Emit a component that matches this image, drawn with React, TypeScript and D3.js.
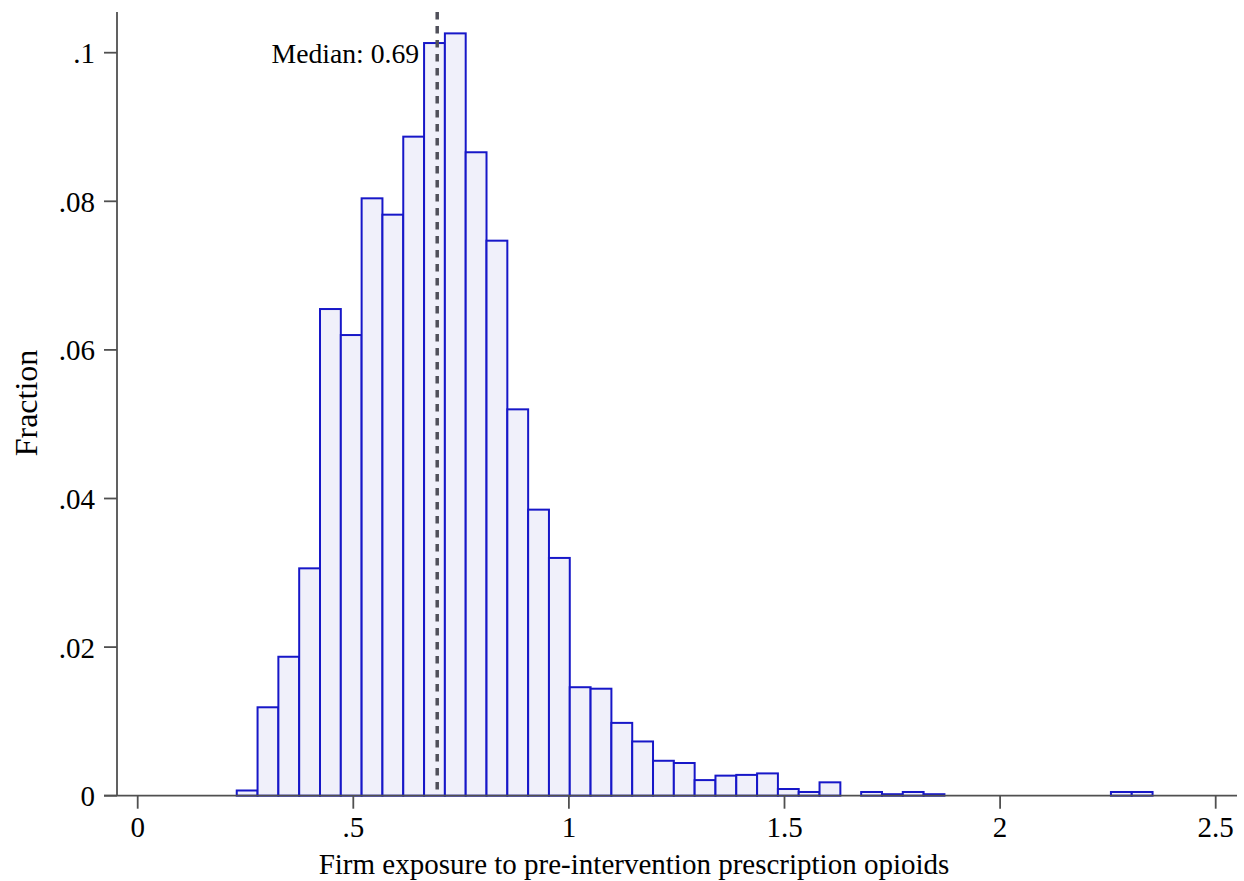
import React, {useRef, useEffect} from 'react';
import * as d3 from 'd3';

// histogram bins (Stata style: start at min, constant width)
const binStart = 0.2297;
const binWidth = 0.04827;
const fractions = [
    0.0007, 0.0119, 0.0187, 0.0306, 0.0655, 0.0620, 0.0804, 0.0782, 0.0887, 0.1013,
    0.1026, 0.0866, 0.0747, 0.0520, 0.0385, 0.0320, 0.0146, 0.0144, 0.0098, 0.0073,
    0.0047, 0.0044, 0.0021, 0.0027, 0.0028, 0.0030, 0.0009, 0.0005, 0.0018, 0,
    0.0005, 0.0002, 0.0005, 0.0002, 0, 0, 0, 0, 0, 0,
    0, 0, 0.0005, 0.0005
];

const xTicks = [0, 0.5, 1, 1.5, 2, 2.5];
const xTickLabels = ['0', '.5', '1', '1.5', '2', '2.5'];
const yTicks = [0, 0.02, 0.04, 0.06, 0.08, 0.1];
const yTickLabels = ['0', '.02', '.04', '.06', '.08', '.1'];

const medianValue = 0.6946;
const medianLabel = 'Median: 0.69';
const xTitle = 'Firm exposure to pre-intervention prescription opioids';
const yTitle = 'Fraction';

export default function App(){

    const canvasRef = useRef(null);

    useEffect(() => {
        const svg = d3.select(canvasRef.current);
        svg.selectAll('*').remove();

        const font = '"Liberation Serif", "Times New Roman", serif';
        const axisColor = '#505050';

        const xScale = d3.scaleLinear().domain([0, 2.5]).range([137.7, 1215.7]);
        const yScale = d3.scaleLinear().domain([0, 0.1]).range([795.7, 52.7]);

        const bins = fractions.map((f, i) => ({
            x0: binStart + i * binWidth,
            x1: binStart + (i + 1) * binWidth,
            v: f
        }));

        // bars
        svg.append('g').selectAll('rect')
            .data(bins.filter(d => d.v > 0))
            .join('rect')
            .attr('x', d => xScale(d.x0))
            .attr('width', d => xScale(d.x1) - xScale(d.x0))
            .attr('y', d => yScale(d.v))
            .attr('height', d => yScale(0) - yScale(d.v))
            .attr('fill', '#f0f0fa')
            .attr('stroke', '#1717c8')
            .attr('stroke-width', 2);

        // median line
        svg.append('line')
            .attr('x1', xScale(medianValue)).attr('x2', xScale(medianValue))
            .attr('y1', 12).attr('y2', yScale(0))
            .attr('stroke', '#50505a')
            .attr('stroke-width', 3.5)
            .attr('stroke-dasharray', '7.5,6.5');

        svg.append('text')
            .attr('x', xScale(medianValue) - 18)
            .attr('y', 63)
            .attr('text-anchor', 'end')
            .attr('font-family', font)
            .attr('font-size', 27.7)
            .text(medianLabel);

        // axes lines
        svg.append('line')
            .attr('x1', 104).attr('x2', 1237)
            .attr('y1', yScale(0)).attr('y2', yScale(0))
            .attr('stroke', axisColor).attr('stroke-width', 1.8);
        svg.append('line')
            .attr('x1', 117).attr('x2', 117)
            .attr('y1', 12).attr('y2', yScale(0))
            .attr('stroke', axisColor).attr('stroke-width', 1.8);

        // x ticks
        const xg = svg.append('g');
        xg.selectAll('line')
            .data(xTicks)
            .join('line')
            .attr('x1', d => xScale(d)).attr('x2', d => xScale(d))
            .attr('y1', yScale(0)).attr('y2', yScale(0) + 13)
            .attr('stroke', axisColor).attr('stroke-width', 1.8);
        xg.selectAll('text')
            .data(xTicks)
            .join('text')
            .attr('x', d => xScale(d))
            .attr('y', 837)
            .attr('text-anchor', 'middle')
            .attr('font-family', font)
            .attr('font-size', 29)
            .text((d, i) => xTickLabels[i]);

        // y ticks
        const yg = svg.append('g');
        yg.selectAll('line')
            .data(yTicks)
            .join('line')
            .attr('x1', 104).attr('x2', 117)
            .attr('y1', d => yScale(d)).attr('y2', d => yScale(d))
            .attr('stroke', axisColor).attr('stroke-width', 1.8);
        yg.selectAll('text')
            .data(yTicks)
            .join('text')
            .attr('x', 95)
            .attr('y', d => yScale(d) + 10.5)
            .attr('text-anchor', 'end')
            .attr('font-family', font)
            .attr('font-size', 29)
            .text((d, i) => yTickLabels[i]);

        // titles
        svg.append('text')
            .attr('x', 634)
            .attr('y', 874)
            .attr('text-anchor', 'middle')
            .attr('font-family', font)
            .attr('font-size', 29)
            .text(xTitle);

        svg.append('text')
            .attr('transform', 'translate(37, 403) rotate(-90)')
            .attr('text-anchor', 'middle')
            .attr('font-family', font)
            .attr('font-size', 32)
            .text(yTitle);
    });

    return(
        <svg
            ref={canvasRef}
            width={1244}
            height={881}
            style={{position: 'absolute', left: 0, top: 0, background: '#fff'}}
        />
    );
}
